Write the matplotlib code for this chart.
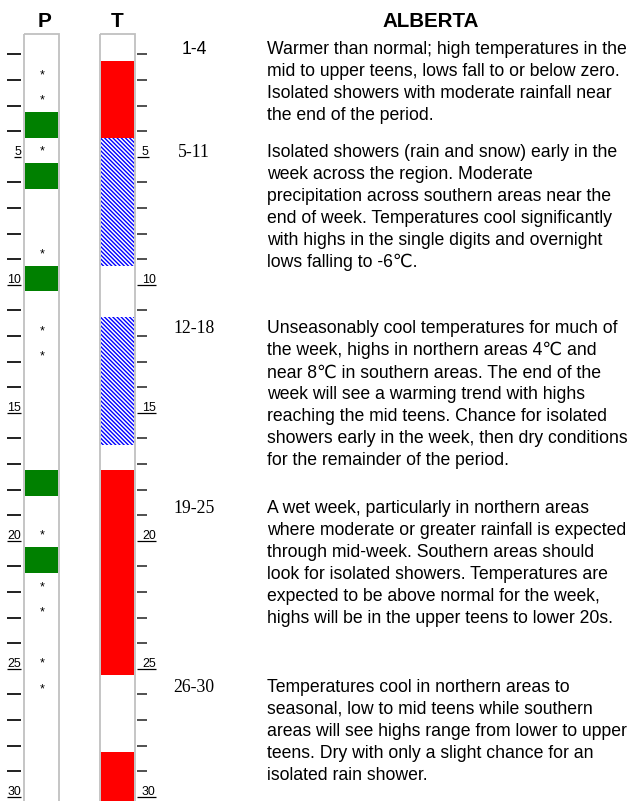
import matplotlib
matplotlib.use("Agg")
import matplotlib.pyplot as plt
from matplotlib.patches import Rectangle

plt.rcParams['hatch.linewidth'] = 1.0

# ---- data ----
days = list(range(1, 31))
label_days = [5, 10, 15, 20, 25, 30]
p_wet_days = [4, 6, 10, 18, 21]                       # green blocks
p_shower_days = [2, 3, 5, 9, 12, 13, 20, 22, 23, 25, 26]  # asterisks
t_warm_days = [2, 3, 4, 18, 19, 20, 21, 22, 23, 24, 25, 29, 30]   # red
t_cool_days = [5, 6, 7, 8, 9, 12, 13, 14, 15, 16]                   # blue hatch

periods = ["1-4", "5-11", "12-18", "19-25", "26-30"]
period_start = [1, 5, 12, 19, 26]
period_text = [
    ["Warmer than normal; high temperatures in the",
     "mid to upper teens, lows fall to or below zero.",
     "Isolated showers with moderate rainfall near",
     "the end of the period."],
    ["Isolated showers (rain and snow) early in the",
     "week across the region. Moderate",
     "precipitation across southern areas near the",
     "end of week. Temperatures cool significantly",
     "with highs in the single digits and overnight",
     "lows falling to -6\u2103."],
    ["Unseasonably cool temperatures for much of",
     "the week, highs in northern areas 4\u2103 and",
     "near 8\u2103 in southern areas. The end of the",
     "week will see a warming trend with highs",
     "reaching the mid teens. Chance for isolated",
     "showers early in the week, then dry conditions",
     "for the remainder of the period."],
    ["A wet week, particularly in northern areas",
     "where moderate or greater rainfall is expected",
     "through mid-week. Southern areas should",
     "look for isolated showers. Temperatures are",
     "expected to be above normal for the week,",
     "highs will be in the upper teens to lower 20s."],
    ["Temperatures cool in northern areas to",
     "seasonal, low to mid teens while southern",
     "areas will see highs range from lower to upper",
     "teens. Dry with only a slight chance for an",
     "isolated rain shower."],
]

SANS = ['Liberation Sans', 'DejaVu Sans']
SERIF = ['Liberation Serif', 'DejaVu Serif']


def runs(day_list):
    # group consecutive days into (start, length)
    out = []
    for d in sorted(day_list):
        if out and out[-1][0] + out[-1][1] == d:
            out[-1][1] += 1
        else:
            out.append([d, 1])
    return out


W, H = 627, 801
row_px = 25.6
top_px = 35.2
fig = plt.figure(figsize=(W / 100, H / 100), dpi=100)
y_top, y_bot = -0.2, 30.2
ax_top = 1 - (top_px + y_top * row_px) / H
ax_bot = 1 - (top_px + y_bot * row_px) / H
ax = fig.add_axes([0, ax_bot, 1, ax_top - ax_bot])
ax.set_xlim(0, W)
ax.set_ylim(y_bot, y_top)
ax.axis('off')

p_x0, p_x1 = 25, 58
t_x0, t_x1 = 101, 134

# P column: wet days
for start, n in runs(p_wet_days):
    ax.barh(start - 1, p_x1 - p_x0, left=p_x0, height=n, align='edge',
            color='#008000', linewidth=0)
for d in p_shower_days:
    ax.text((p_x0 + p_x1) / 2 + 0.5, d - 0.33, '*', ha='center', va='baseline',
            fontsize=9, family=SANS)

# T column: warm / cool
for start, n in runs(t_warm_days):
    ax.barh(start - 1, t_x1 - t_x0, left=t_x0, height=n, align='edge',
            color='#ff0000', linewidth=0)
for start, n in runs(t_cool_days):
    ax.barh(start - 1, t_x1 - t_x0, left=t_x0, height=n, align='edge',
            facecolor='white', edgecolor='#0000ff', hatch='\\' * 8, linewidth=0)

# column frames
for x0, x1 in [(24.2, 58.7), (100.2, 134.7)]:
    ax.add_patch(Rectangle((x0, -0.035), x1 - x0, 31, fill=False,
                           edgecolor='#c0c0c0', linewidth=1.3, zorder=5, clip_on=False))

ax.text(45, -0.33, 'P', ha='center', va='baseline', fontsize=15, fontweight='bold', family=SANS)
ax.text(117, -0.33, 'T', ha='center', va='baseline', fontsize=15, fontweight='bold', family=SANS)
ax.text(431, -0.31, 'ALBERTA', ha='center', va='baseline', fontsize=14.8,
        fontweight='bold', family=SANS)

# day ticks and underlined labels
fig.canvas.draw()
renderer = fig.canvas.get_renderer()
inv = ax.transData.inverted()
for d in days:
    yt = d - 0.25
    if d in label_days:
        tl = ax.text(21, yt - 0.06, str(d), ha='right', va='baseline', fontsize=8.9, family=SANS)
        tr = ax.text(142, yt - 0.06, str(d), ha='left', va='baseline', fontsize=8.9, family=SANS)
        bl = tl.get_window_extent(renderer)
        br = tr.get_window_extent(renderer)
        xl0 = inv.transform((bl.x0, 0))[0]
        xr1 = inv.transform((br.x1, 0))[0]
        ax.plot([xl0, 21], [yt, yt], color='black', linewidth=0.9, solid_capstyle='butt')
        ax.plot([137, xr1], [yt, yt], color='black', linewidth=0.9, solid_capstyle='butt')
    else:
        ax.plot([7, 21], [yt, yt], color='#202020', linewidth=1.4, solid_capstyle='butt')
        ax.plot([137, 147], [yt, yt], color='#202020', linewidth=1.1, solid_capstyle='butt')

# period descriptions
line_rows = 22 / row_px
for i, (lab, start, lines) in enumerate(zip(periods, period_start, period_text)):
    yb = start - 0.25 - (0.1 if i >= 2 else 0)
    ax.text(194, yb, lab, ha='center', va='baseline', fontsize=12.7,
            family=SANS if i == 0 else SERIF)
    for j, line in enumerate(lines):
        ax.text(267, yb + j * line_rows, line, ha='left', va='baseline',
                fontsize=12.7, family=SANS)

fig.savefig('out.png', dpi=100)
